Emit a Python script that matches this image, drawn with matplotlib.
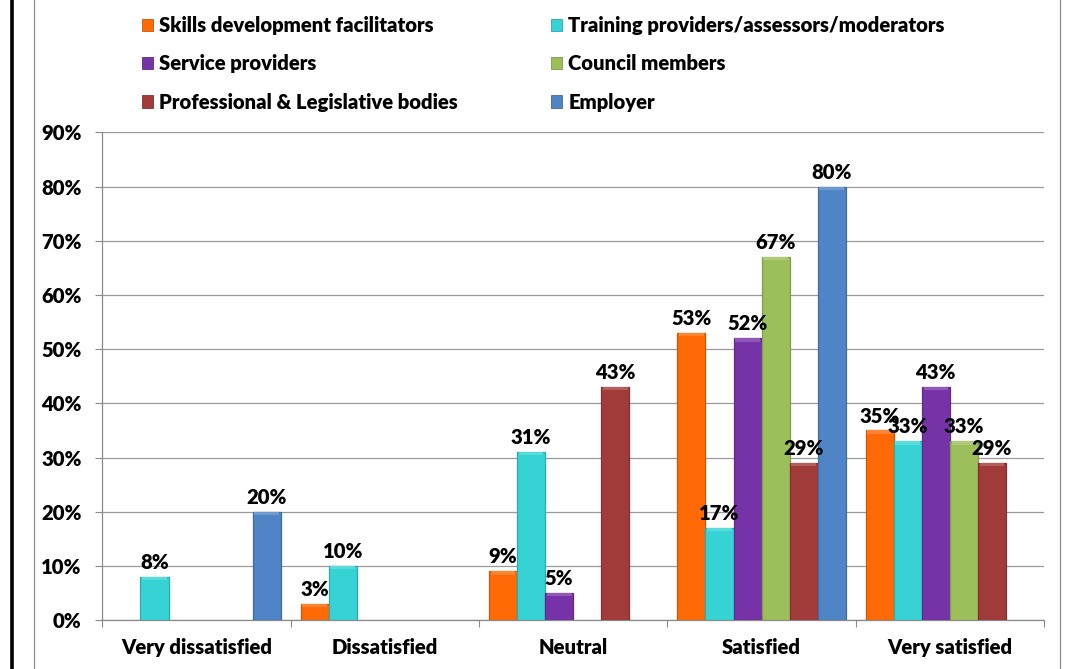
import numpy as np
import matplotlib
matplotlib.use("Agg")
import matplotlib.pyplot as plt
from matplotlib.patches import Patch
from matplotlib.lines import Line2D
from matplotlib import colors as mcolors

# survey results (% of respondents)
categories = ["Very dissatisfied", "Dissatisfied", "Neutral", "Satisfied", "Very satisfied"]
groups = ["Skills development facilitators", "Training providers/assessors/moderators",
          "Service providers", "Council members",
          "Professional & Legislative bodies", "Employer"]
sdf = [0, 3, 9, 53, 35]
tpam = [8, 10, 31, 17, 33]
sp = [0, 0, 5, 52, 43]
cm = [0, 0, 0, 67, 33]
plb = [0, 0, 43, 29, 29]
emp = [20, 0, 0, 80, 0]
yticks = [0, 10, 20, 30, 40, 50, 60, 70, 80, 90]

series = [sdf, tpam, sp, cm, plb, emp]
cols = ["#FF6A07", "#35D3D3", "#7633A8", "#9DBF5B", "#A03B3A", "#4F84C6"]

plt.rcParams['font.family'] = ['Lato', 'DejaVu Sans']
fs = 14.6
fw = "heavy"

fig = plt.figure(figsize=(10.76, 6.69), dpi=100)
ax = fig.add_axes([0.0952, 0.0732, 0.9703 - 0.0952, 0.802 - 0.0732])

def shade(c, f):
    r, g, b = mcolors.to_rgb(c)
    if f > 1:
        return (r + (1 - r) * (f - 1), g + (1 - g) * (f - 1), b + (1 - b) * (f - 1))
    return (r * f, g * f, b * f)

x = np.arange(len(categories))
w = 0.149
cap = 0.6
for j, (vals, c) in enumerate(zip(series, cols)):
    xs = x + (j - 2.5) * w
    for xi, v in zip(xs, vals):
        if v == 0:
            continue
        ax.bar(xi, v, width=w, color=c, edgecolor=shade(c, 0.82), linewidth=0.9, zorder=3)
        # soft bevel on top of the bar
        ax.bar(xi, cap, bottom=v - cap, width=w * 0.88, color=shade(c, 1.18),
               linewidth=0, zorder=4)
        ax.annotate(f"{v}%", (xi, v), xytext=(0, 3.5), textcoords="offset points",
                    ha="center", va="bottom", fontsize=fs, fontweight=fw, zorder=6)

ax.set_xlim(-0.5, len(categories) - 0.5)
ax.set_ylim(0, 90)
ax.set_yticks(yticks)
ax.set_yticklabels([f"{t}%" for t in yticks], fontweight=fw)
ax.yaxis.grid(True, color="#9a9a9a", lw=0.9)
ax.set_axisbelow(True)

ax.set_xticks(np.arange(len(categories) + 1) - 0.5)
ax.set_xticklabels([])
ax.set_xticks(x, minor=True)
ax.set_xticklabels(categories, minor=True, fontweight=fw)
ax.tick_params(axis="x", which="major", length=5, color="#8a8a8a", direction="out")
ax.tick_params(axis="x", which="minor", length=0, pad=13, labelsize=fs)
ax.tick_params(axis="y", length=5, color="#8a8a8a", pad=10, labelsize=fs)

for s in ["top", "right"]:
    ax.spines[s].set_visible(False)
ax.spines["left"].set_color("#8a8a8a")
ax.spines["bottom"].set_color("#8a8a8a")
ax.spines["left"].set_linewidth(0.9)
ax.spines["bottom"].set_linewidth(0.9)

# legend, filled column by column
order = [0, 2, 4, 1, 3, 5]
handles = [Patch(facecolor=cols[k], edgecolor=shade(cols[k], 0.8), linewidth=0.6) for k in order]
fig.legend(handles, [groups[k] for k in order], ncol=2, loc="upper left",
           bbox_to_anchor=(0.1185, 0.997), frameon=False,
           prop={"size": fs, "weight": fw},
           handlelength=0.55, handleheight=0.55, handletextpad=0.3,
           labelspacing=0.95, columnspacing=4.6, borderaxespad=0.3)

# page frame lines
fig.add_artist(Line2D([11.5 / 1076] * 2, [0, 1], color="black", lw=2.6))
fig.add_artist(Line2D([33.5 / 1076] * 2, [0, 1], color="#8c8c8c", lw=0.9))
fig.add_artist(Line2D([1059.5 / 1076] * 2, [0, 1], color="#8c8c8c", lw=0.9))

fig.savefig("out.png", dpi=100, facecolor="white")
